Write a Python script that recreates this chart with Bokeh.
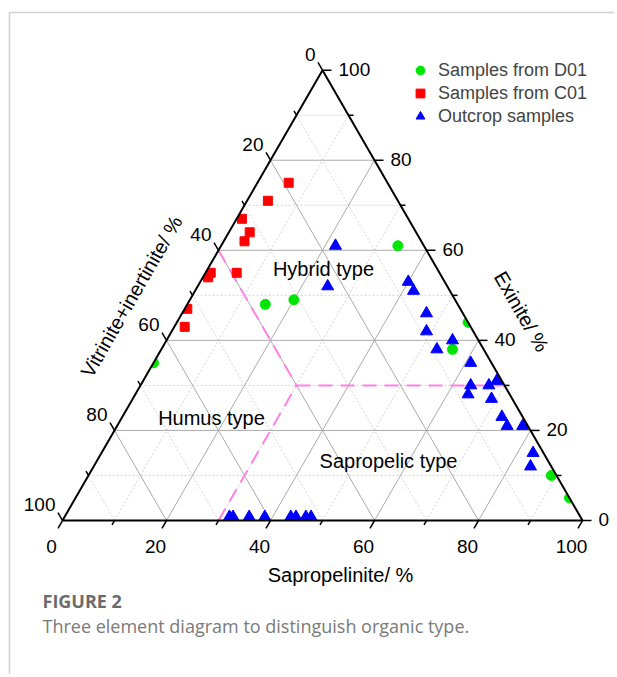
import math
from bokeh.plotting import figure
from bokeh.models import Range1d, Legend, LegendItem
from bokeh.core.properties import value
from bokeh.embed import file_html
from bokeh.resources import INLINE

# ---------------- data (Sapropelinite %, Exinite %; Vitrinite+inertinite = 100 - S - E)
d01_sapro = [34, 15, 20, 0, 56, 56, 89, 95]
d01_exin = [61, 48, 49, 35, 44, 38, 10, 5]

c01_sapro = [6, 4, 1, 4, 4, 1, 1, 6, 0.5, 2]
c01_exin = [75, 71, 67, 64, 62, 55, 54, 55, 47, 43]

out_sapro = [22, 25, 40, 42, 47, 49, 55, 53, 61, 63.5, 64, 67, 68, 69, 73, 75, 78, 83, 84,
             31.7, 32.4, 35.5, 38.5, 43.5, 44.5, 46.4, 47.4]
out_exin = [61, 52, 53, 51, 46, 42, 40, 38, 35, 30, 28, 30, 31, 27, 23, 21, 21, 15, 12,
            0.8, 0.8, 0.8, 0.8, 0.8, 0.8, 0.8, 0.8]

tick_values = [0, 20, 40, 60, 80, 100]
tick_labels = ["0", "20", "40", "60", "80", "100"]
minor_values = [10, 30, 50, 70, 90]
major_grid = [20, 40, 60, 80]

# boundary lines between types: (S, E) vertices
bound1_s = [0, 30]; bound1_e = [60, 30]      # V = 40
bound2_s = [30, 30]; bound2_e = [0, 30]      # S = 30
bound3_s = [30, 70]; bound3_e = [30, 30]     # E = 30

series_names = ["Samples from D01", "Samples from C01", "Outcrop samples"]
region_names = ["Hybrid type", "Humus type", "Sapropelic type"]

# ---------------- geometry
SQ = math.sqrt(3) / 2
W, H = 614, 674
K = 5.2            # px per unit
X0, Y0 = 62, 520   # frame px of ternary origin
XS, YE = -X0 / K, Y0 / K


def tern(s, e):
    return s + e / 2.0, e * SQ


def terns(ss, es):
    xs, ys = [], []
    for s, e in zip(ss, es):
        x, y = tern(s, e)
        xs.append(x); ys.append(y)
    return xs, ys


def pix(fx, fy):
    return XS + fx / K, YE - fy / K


p = figure(width=W, height=H, x_range=Range1d(XS, (W - X0) / K), y_range=Range1d(-(H - Y0) / K, YE),
           output_backend="svg", toolbar_location=None, x_axis_type=None, y_axis_type=None,
           min_border=0, outline_line_color=None)
p.background_fill_color = "white"

FONT = value("Liberation Sans")

# ---------------- grid
def grid_lines(vals):
    xs, ys = [], []
    for v in vals:
        for (a, b) in [((0, v), (100 - v, v)), ((v, 0), (v, 100 - v)), ((100 - v, 0), (0, 100 - v))]:
            x1, y1 = tern(*a); x2, y2 = tern(*b)
            xs.append([x1, x2]); ys.append([y1, y2])
    return xs, ys

gx, gy = grid_lines(minor_values)
p.multi_line(gx, gy, line_color="#d4d4d4", line_width=1, line_dash="2 2")
gx, gy = grid_lines(major_grid)
p.multi_line(gx, gy, line_color="#ababab", line_width=1)

# ---------------- type boundaries
for bs, be in [(bound1_s, bound1_e), (bound2_s, bound2_e), (bound3_s, bound3_e)]:
    bx, by = terns(bs, be)
    p.line(bx, by, line_color="#ff80e6", line_width=2, line_dash="14 8")

# ---------------- samples
x, y = terns(d01_sapro, d01_exin)
r_d01 = p.scatter(x, y, marker="circle", size=10, fill_color="#00e600", line_color="#00e600")
x, y = terns(c01_sapro, c01_exin)
r_c01 = p.scatter(x, y, marker="square", size=9, fill_color="#ff0000", line_color="#ff0000")
x, y = terns(out_sapro, out_exin)
r_out = p.scatter(x, y, marker="triangle", size=12, fill_color="#0000ff", line_color="#0000ff")

# white mask outside triangle (clip markers at the edges)
tx, ty = terns([0, 100, 0], [0, 0, 100])
bx0, by0 = pix(0, 0); bx1, by1 = pix(W, H)
p.multi_polygons(xs=[[[[bx0, bx1, bx1, bx0], tx]]], ys=[[[[by0, by0, by1, by1], ty]]],
                 fill_color="white", line_color=None)

# ---------------- triangle outline
p.line(tx + [tx[0]], ty + [ty[0]], line_color="black", line_width=2)

# ---------------- ticks
def ticks(vals, length):
    xs, ys = [], []
    L = length / K
    for v in vals:
        x1, y1 = tern(v, 0)
        xs.append([x1, x1 - 0.5 * L]); ys.append([y1, y1 - SQ * L])
        x1, y1 = tern(100 - v, v)
        xs.append([x1, x1 + L]); ys.append([y1, y1])
        x1, y1 = tern(0, 100 - v)
        xs.append([x1, x1 - 0.5 * L]); ys.append([y1, y1 + SQ * L])
    return xs, ys

kx, ky = ticks(tick_values, 9)
p.multi_line(kx, ky, line_color="black", line_width=1.5)
kx, ky = ticks(minor_values, 5)
p.multi_line(kx, ky, line_color="black", line_width=1.5)

# ---------------- tick labels
TS = value("19px")
bx, by, rx, ry, lx, ly = [], [], [], [], [], []
for v in tick_values:
    a, b = tern(v, 0); bx.append(a - 11 / K); by.append(b - 26 / K)
    a, b = tern(100 - v, v); rx.append(a + 16 / K); ry.append(b + 1 / K)
    a, b = tern(0, 100 - v); lx.append(a - 7 / K); ly.append(b + 16 / K)
p.text(bx, by, text=tick_labels, text_align="center", text_baseline="middle",
       text_font=FONT, text_font_size=TS, text_color="black")
p.text(rx, ry, text=tick_labels, text_align="left", text_baseline="middle",
       text_font=FONT, text_font_size=TS, text_color="black")
p.text(lx, ly, text=tick_labels, text_align="right", text_baseline="middle",
       text_font=FONT, text_font_size=TS, text_color="black")

# ---------------- axis titles
TT = value("20px")
ax, ay = pix(340, 574)
p.text([ax], [ay], text=["Sapropelinite/ %"], text_align="center", text_baseline="middle",
       text_font=FONT, text_font_size=TT, text_color="black")
ax, ay = pix(131, 296)
p.text([ax], [ay], text=["Vitrinite+inertinite/ %"], angle=math.pi / 3, text_align="center",
       text_baseline="middle", text_font=FONT, text_font_size=TT, text_color="black")
ax, ay = pix(521, 311)
p.text([ax], [ay], text=["Exinite/ %"], angle=-math.pi / 3, text_align="center",
       text_baseline="middle", text_font=FONT, text_font_size=TT, text_color="black")

# ---------------- region labels
rpos = [pix(323, 268), pix(211, 417), pix(388, 460)]
p.text([q[0] for q in rpos], [q[1] for q in rpos], text=region_names, text_align="center",
       text_baseline="middle", text_font=FONT, text_font_size=value("20px"), text_color="black")

# ---------------- caption & card border
fx, fy = pix(42, 600)
p.text([fx], [fy], text=["FIGURE 2"], text_align="left", text_baseline="middle",
       text_font=value("Open Sans"), text_font_size=value("18px"), text_font_style="bold",
       text_color="#6b6b6b")
fx, fy = pix(42, 625)
p.text([fx], [fy], text=["Three element diagram to distinguish organic type."], text_align="left",
       text_baseline="middle", text_font=value("Open Sans"), text_font_size=value("18px"),
       text_color="#7a7a7a")
l0 = pix(9, 12); l1 = pix(9, H); l2 = pix(W, 12)
p.line([l1[0], l0[0], l2[0]], [l1[1], l0[1], l2[1]], line_color="#d0d0d0", line_width=1.5)

# ---------------- legend
legend = Legend(items=[LegendItem(label=series_names[0], renderers=[r_d01]),
                       LegendItem(label=series_names[1], renderers=[r_c01]),
                       LegendItem(label=series_names[2], renderers=[r_out])],
                location=(408, H - 127), glyph_width=24, glyph_height=22, label_height=22,
                label_standoff=6, spacing=1, padding=0, margin=0,
                border_line_color=None, background_fill_alpha=0,
                label_text_font="Liberation Sans", label_text_font_size="18px")
p.add_layout(legend)

open("out.html", "w").write(file_html(p, INLINE))
